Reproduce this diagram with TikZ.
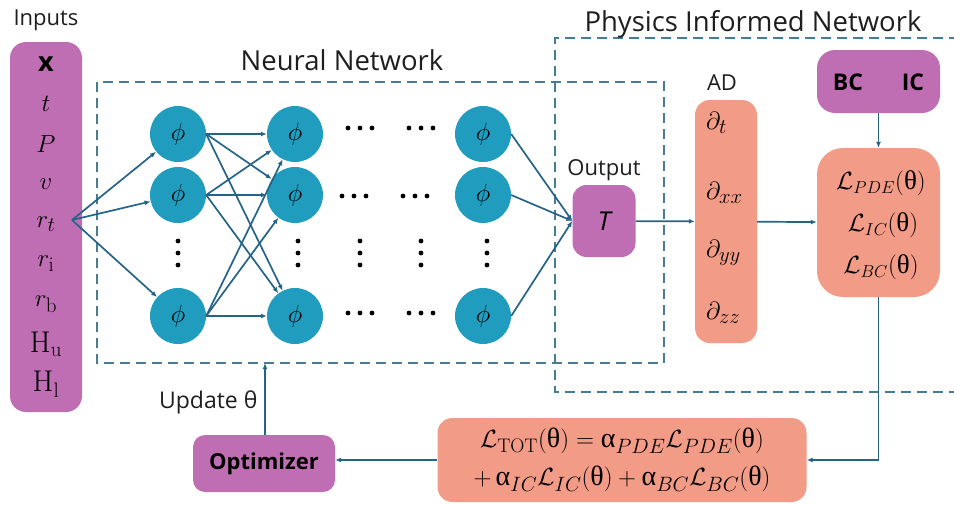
\documentclass[tikz,border=0pt]{standalone}
\usepackage{amsmath}
\usepackage{fontspec}
\usetikzlibrary{arrows.meta,calc}
\newfontfamily\lbl{Open Sans}
\newfontfamily\grk{Liberation Serif}
\newcommand{\uth}{\text{\grk θ}}
\newcommand{\ual}{\text{\grk α}}
\definecolor{pinkbox}{RGB}{192,110,180}
\definecolor{salmon}{RGB}{242,155,134}
\definecolor{neuron}{RGB}{32,156,190}
\definecolor{conn}{RGB}{38,100,135}
\definecolor{dashc}{RGB}{70,125,150}
\definecolor{ink}{RGB}{30,30,30}
\tikzset{
  fs/.style={font=\fontsize{#1}{#1}\selectfont},
  sans/.style={font=\lbl\fontsize{#1}{#1}\selectfont},
  sansbf/.style={font=\lbl\bfseries\fontsize{#1}{#1}\selectfont},
  purplebox/.style={fill=pinkbox,draw=none,rounded corners=14pt,inner sep=0pt},
  salmonbox/.style={fill=salmon,draw=none,rounded corners=15pt,inner sep=0pt},
  neur/.style={circle,fill=neuron,minimum size=56pt,inner sep=0pt,text=black,fs=32},
  link/.style={draw=conn,line width=1.7pt},
  arr/.style={link,-{Latex[length=6pt,width=5pt]}},
  frame/.style={draw=dashc,line width=1.5pt,dash pattern=on 10pt off 6pt},
  label/.style={text=ink,sans=27.5},
  dot/.style={fill=black},
}
\begin{document}
\begin{tikzpicture}[x=1pt,y=-1pt]
\useasboundingbox (0,0) rectangle (954,506);

% dashed frames
\draw[frame] (975,38) -- (555,38) -- (555,392) -- (975,392);
\draw[frame] (97,82) rectangle (664,363);
\node[label] (nnlab) at (342,60) {Neural Network};
\node[label] (pilab) at (753,24) {Physics Informed Network};

% inputs
\node[label,sans=22] (inlab) at (46,20) {Inputs};
\node[purplebox,minimum width=72pt,minimum height=370pt,rounded corners=16pt] (inbox) at (46,227) {};
\node[sansbf=27,text=black] (in1) at (46,64) {x};
\foreach \t [count=\i from 2] in {$t$,$P$,$v$,$r_t$,$r_{\mathrm{i}}$,$r_{\mathrm{b}}$,$\mathrm{H_u}$,$\mathrm{H_l}$}
  \node[fs=30,text=black] (in\i) at (46,{24+40*\i}) {\t};
\coordinate (inp) at (72,220);

% hidden layers
\foreach \c/\x in {1/178,2/295,3/483}{
  \node[neur] (n\c a) at (\x,134) {$\phi$};
  \node[neur] (n\c b) at (\x,195) {$\phi$};
  \node[neur] (n\c d) at (\x,316) {$\phi$};
}
% ellipses between layers
\foreach \x/\y in {360/128,421/128,354/196,415/196,360/313,421/313}
  \foreach \d in {-12,0,12} \fill[dot] (\x+\d,\y) circle (2.4pt);
\foreach \x in {178,298,360,421,487}
  \foreach \d in {-12,0,12} \fill[dot] (\x,253+\d) circle (2.4pt);

% connections
\foreach \r in {a,b,d} \draw[arr] (inp) -- (n1\r);
\foreach \s in {a,b,d}
  \foreach \r in {a,b,d} \draw[arr] (n1\s.east) -- (n2\r);

% output
\node[purplebox,minimum width=63pt,minimum height=72pt] (T) at (604,221) {\lbl\fontsize{26}{26}\selectfont\itshape T};
\node[label,sans=22] (outlab) at (604,170) {Output};
\foreach \s in {a,b,d} \draw[arr] (n3\s.east) -- (T.west);

% automatic differentiation
\node[salmonbox,minimum width=62pt,minimum height=243pt] (AD) at (726,221.5) {};
\node[label,sans=22] (adlab) at (722,83) {AD};
\node[fs=30,anchor=west,inner sep=0pt] (d1) at (706,123) {$\partial_t$};
\node[fs=30,anchor=west,inner sep=0pt] (d2) at (706,193) {$\partial_{xx}$};
\node[fs=30,anchor=west,inner sep=0pt] (d3) at (706,253) {$\partial_{yy}$};
\node[fs=30,anchor=west,inner sep=0pt] (d4) at (706,313) {$\partial_{zz}$};
\draw[arr] (T) -- (AD);

% conditions and losses
\node[purplebox,minimum width=123pt,minimum height=63pt,rounded corners=18pt] (cond) at (878.5,81.5) {};
\node[text=black,sansbf=23] (bc) at (848,82) {BC};
\node[text=black,sansbf=23] (ic) at (913,82) {IC};
\node[salmonbox,minimum width=123pt,minimum height=149pt,rounded corners=26pt] (loss) at (878.5,222.5) {};
\node[fs=27] (lp) at (881,183) {$\mathcal{L}_{PDE}(\uth)$};
\node[fs=27] (li) at (883,225) {$\mathcal{L}_{IC}(\uth)$};
\node[fs=27] (lb) at (881,267) {$\mathcal{L}_{BC}(\uth)$};
\draw[arr] (AD) -- (loss);
\draw[arr] (cond) -- (loss);

% total loss and optimizer
\node[salmonbox,minimum width=369pt,minimum height=84pt,align=center,fs=28] (tot) at (622,460)
  {$\mathcal{L}_{\mathrm{TOT}}(\uth) = \ual_{PDE}\mathcal{L}_{PDE}(\uth)$\\[10pt]
   $+\,\ual_{IC}\mathcal{L}_{IC}(\uth) + \ual_{BC}\mathcal{L}_{BC}(\uth)$};
\draw[arr] (loss.south) |- (tot.east);
\node[purplebox,minimum width=142pt,minimum height=57pt,rounded corners=12pt,text=black,sansbf=22] (opt) at (264,463.5) {Optimizer};
\draw[arr] (tot.west) -- (tot.west -| opt.east);
\coordinate (nnb) at (265,363);
\draw[arr] (opt.north -| nnb) -- (nnb);
\node[label,anchor=east,sans=23] (upd) at (261,402) {Update θ};
\end{tikzpicture}
\end{document}
